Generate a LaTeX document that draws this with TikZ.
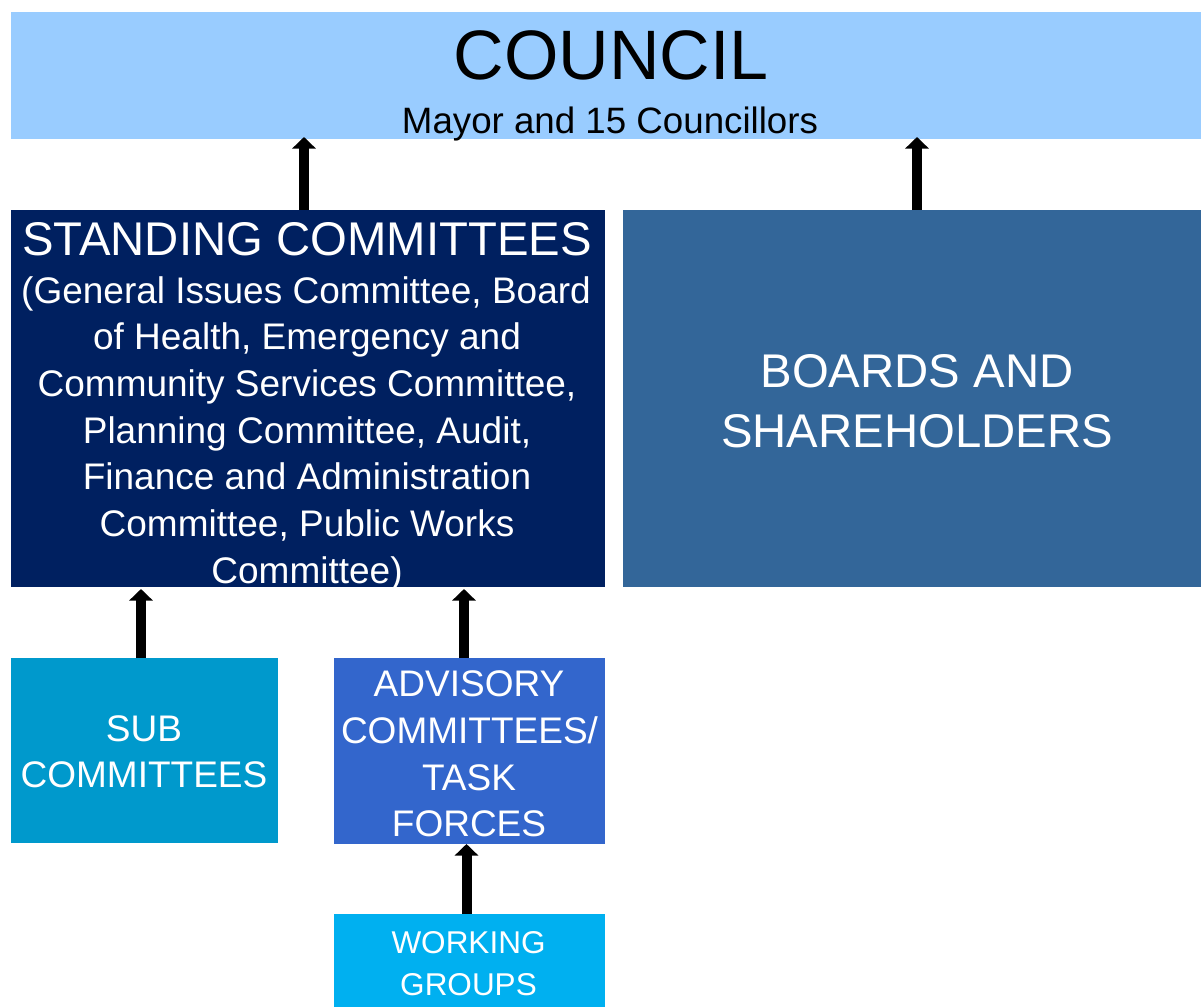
\documentclass[tikz,border=0pt]{standalone}
\usepackage{fontspec}
\setmainfont{Liberation Sans}
\usetikzlibrary{arrows.meta}
\definecolor{councilc}{HTML}{99CCFF}
\definecolor{standc}{HTML}{002060}
\definecolor{boardc}{HTML}{336699}
\definecolor{subc}{HTML}{0099CC}
\definecolor{advc}{HTML}{3366CC}
\definecolor{workc}{HTML}{00B0F0}
\tikzset{
  box/.style={rectangle, inner sep=0pt, outer sep=0pt, draw=none, anchor=north west},
  lbl/.style={anchor=base, inner sep=0pt, text=white},
  uparrow/.style={line width=10pt, -{Triangle[width=23pt,length=11.5pt]}, black}
}
\newcommand{\fs}[2]{\fontsize{#1}{#2}\selectfont}
\begin{document}
\begin{tikzpicture}[x=1pt,y=-1pt]
\fill[white] (0,0) rectangle (1201,1007);
\useasboundingbox (0,0) rectangle (1201,1007);
% boxes
\node[box, fill=councilc, minimum width=1190pt, minimum height=127pt] (council) at (11,12) {};
\node[box, fill=standc, minimum width=594pt, minimum height=377pt] (std) at (11,210) {};
\node[box, fill=boardc, minimum width=578pt, minimum height=377pt] (boards) at (623,210) {};
\node[box, fill=subc, minimum width=267pt, minimum height=185pt] (sub) at (11,658) {};
\node[box, fill=advc, minimum width=271pt, minimum height=186pt] (adv) at (334,658) {};
\node[box, fill=workc, minimum width=271pt, minimum height=93pt] (work) at (334,914) {};
% council text
\node[lbl, text=black] (t1) at (611,79) {\fs{70}{84}COUNCIL};
\node[lbl, text=black] (t2) at (610,133) {\fs{36.7}{44}Mayor and 15 Councillors};
% standing committees text
\node[lbl] (s0) at (307,255) {\fs{47.3}{56}STANDING COMMITTEES};
\node[lbl] (s1) at (306,303) {\fs{37}{44}(General Issues Committee, Board};
\node[lbl] (s2) at (307,349.7) {\fs{37}{44}of Health, Emergency and};
\node[lbl] (s3) at (307,396.3) {\fs{37}{44}Community Services Committee,};
\node[lbl] (s4) at (307,443) {\fs{37}{44}Planning Committee, Audit,};
\node[lbl] (s5) at (307,489.7) {\fs{37}{44}Finance and Administration};
\node[lbl] (s6) at (307,536.3) {\fs{37}{44}Committee, Public Works};
\node[lbl] (s7) at (307,583) {\fs{37}{44}Committee)};
% boards text
\node[lbl] (b1) at (917,387) {\fs{47.3}{56}BOARDS AND};
\node[lbl] (b2) at (917,447) {\fs{47.3}{56}SHAREHOLDERS};
% sub committees text
\node[lbl] (u1) at (144,741) {\fs{37}{44}SUB};
\node[lbl] (u2) at (144,787) {\fs{37}{44}COMMITTEES};
% advisory text
\node[lbl] (a1) at (469,696) {\fs{37}{44}ADVISORY};
\node[lbl] (a2) at (469.5,743) {\fs{37}{44}COMMITTEES/};
\node[lbl] (a3) at (469,790) {\fs{37}{44}TASK};
\node[lbl] (a4) at (469,836) {\fs{37}{44}FORCES};
% working text
\node[lbl] (w1) at (468.5,953) {\fs{31.5}{38}WORKING};
\node[lbl] (w2) at (468.5,995) {\fs{31.5}{38}GROUPS};
% arrows
\draw[uparrow] ([xshift=-4pt]std.north) -- ([xshift=-4pt,yshift=2pt]std.north |- council.south);
\draw[uparrow] ([xshift=5pt]boards.north) -- ([xshift=5pt,yshift=2pt]boards.north |- council.south);
\draw[uparrow] ([xshift=-3.5pt]sub.north) -- ([xshift=-3.5pt,yshift=-2pt]sub.north |- std.south);
\draw[uparrow] ([xshift=-5.5pt]adv.north) -- ([xshift=-5.5pt,yshift=-2pt]adv.north |- std.south);
\draw[uparrow] ([xshift=-3pt]work.north) -- ([xshift=-3pt]work.north |- adv.south);
\end{tikzpicture}
\end{document}
